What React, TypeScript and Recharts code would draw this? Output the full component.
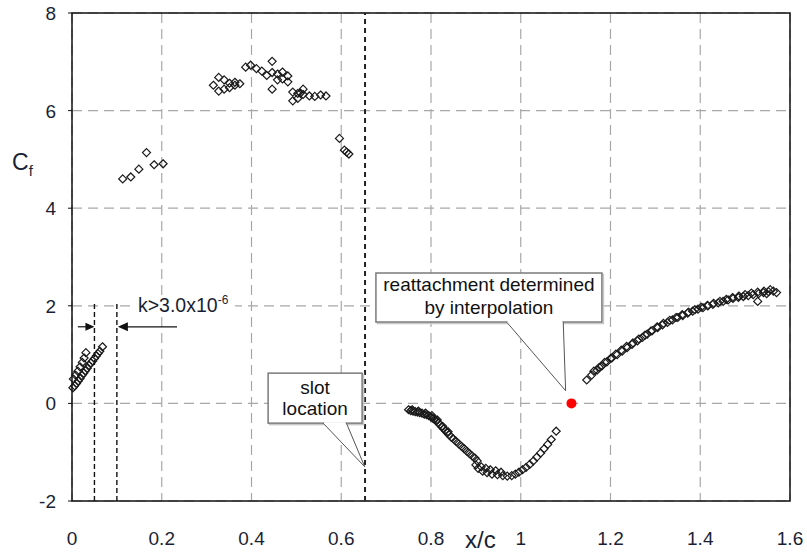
import React from "react";
import {
  CartesianGrid,
  Label,
  ReferenceArea,
  ReferenceDot,
  ReferenceLine,
  Scatter,
  ScatterChart,
  XAxis,
  YAxis,
} from "recharts";

// Skin friction measurements, [x/c, Cf]
const leadingLower: [number, number][] = [
  [0.002, 0.32], [0.006, 0.36], [0.010, 0.41], [0.014, 0.46], [0.018, 0.51],
  [0.022, 0.57], [0.026, 0.62], [0.030, 0.67], [0.034, 0.72], [0.038, 0.78],
  [0.042, 0.83], [0.046, 0.87], [0.050, 0.92], [0.054, 0.97], [0.058, 1.02],
  [0.062, 1.07], [0.068, 1.16],
];
const leadingUpper: [number, number][] = [
  [0.003, 0.5], [0.008, 0.58], [0.013, 0.66], [0.018, 0.75], [0.023, 0.84],
  [0.027, 0.93], [0.031, 1.04],
];
const upstream: [number, number][] = [
  [0.113, 4.6], [0.131, 4.64], [0.149, 4.8], [0.166, 5.14], [0.183, 4.89], [0.203, 4.91],
];
const peak: [number, number][] = [
  [0.315, 6.52], [0.327, 6.68], [0.327, 6.4], [0.339, 6.63], [0.339, 6.44],
  [0.351, 6.56], [0.351, 6.47], [0.363, 6.58], [0.363, 6.52], [0.374, 6.55],
  [0.387, 6.89], [0.398, 6.93], [0.411, 6.86], [0.423, 6.81], [0.434, 6.72],
  [0.446, 7.01], [0.446, 6.78], [0.446, 6.44], [0.458, 6.75], [0.458, 6.63],
  [0.469, 6.79], [0.469, 6.65], [0.481, 6.71], [0.481, 6.59], [0.492, 6.38],
  [0.492, 6.2], [0.503, 6.35], [0.503, 6.25], [0.509, 6.36], [0.515, 6.44],
  [0.515, 6.33], [0.529, 6.3], [0.541, 6.29], [0.554, 6.32], [0.566, 6.3],
];
const preSlot: [number, number][] = [
  [0.596, 5.43], [0.607, 5.19], [0.612, 5.15], [0.617, 5.11],
];
const bubble: [number, number][] = [
  [0.75, -0.13], [0.755, -0.15], [0.758, -0.13], [0.76, -0.16], [0.765, -0.17],
  [0.77, -0.18], [0.772, -0.16], [0.775, -0.19], [0.78, -0.2], [0.785, -0.22],
  [0.788, -0.2], [0.79, -0.23], [0.795, -0.25], [0.8, -0.28], [0.802, -0.25],
  [0.804, -0.3], [0.808, -0.33], [0.812, -0.36], [0.814, -0.34], [0.816, -0.4],
  [0.82, -0.44], [0.824, -0.48], [0.826, -0.47], [0.828, -0.52], [0.832, -0.56],
  [0.836, -0.6], [0.838, -0.58], [0.84, -0.64], [0.845, -0.69], [0.85, -0.73],
  [0.856, -0.78], [0.862, -0.83], [0.868, -0.88], [0.874, -0.93], [0.88, -0.98],
  [0.886, -1.03], [0.892, -1.08], [0.898, -1.12], [0.903, -1.18], [0.9, -1.26],
  [0.905, -1.33], [0.912, -1.3], [0.915, -1.39], [0.922, -1.33], [0.925, -1.42],
  [0.932, -1.36], [0.936, -1.45], [0.944, -1.38], [0.948, -1.46], [0.956, -1.41],
  [0.96, -1.48], [0.97, -1.49], [0.98, -1.48], [0.988, -1.45], [0.996, -1.41],
  [1.004, -1.36], [1.012, -1.31], [1.02, -1.25], [1.028, -1.18], [1.036, -1.1],
  [1.044, -1.02], [1.052, -0.93], [1.06, -0.84], [1.068, -0.74], [1.079, -0.57],
];
const recovery: [number, number][] = [
  [1.147, 0.48], [1.158, 0.58], [1.17, 0.68], [1.181, 0.77], [1.192, 0.85],
  [1.203, 0.93], [1.215, 1.0], [1.226, 1.07], [1.237, 1.14], [1.248, 1.21],
  [1.26, 1.28], [1.271, 1.35], [1.282, 1.42], [1.293, 1.49], [1.305, 1.55],
  [1.316, 1.61], [1.327, 1.66], [1.338, 1.71], [1.35, 1.76], [1.361, 1.8],
  [1.372, 1.85], [1.383, 1.89], [1.395, 1.93], [1.406, 1.96], [1.417, 2.0],
  [1.428, 2.03], [1.44, 2.06], [1.451, 2.09], [1.462, 2.12], [1.473, 2.15],
  [1.485, 2.17], [1.496, 2.19], [1.507, 2.21], [1.518, 2.23], [1.53, 2.25],
  [1.541, 2.27], [1.552, 2.29], [1.563, 2.3], [1.57, 2.27],
  [1.163, 0.66], [1.175, 0.74], [1.187, 0.84], [1.2, 0.92], [1.212, 1.01],
  [1.224, 1.09], [1.236, 1.17], [1.25, 1.24], [1.263, 1.32], [1.277, 1.4],
  [1.29, 1.48], [1.304, 1.57], [1.318, 1.64], [1.332, 1.7], [1.346, 1.76],
  [1.36, 1.82], [1.374, 1.87], [1.388, 1.92], [1.402, 1.97], [1.416, 2.01],
  [1.43, 2.05], [1.444, 2.09], [1.458, 2.13], [1.472, 2.17], [1.486, 2.2],
  [1.5, 2.23], [1.514, 2.26], [1.528, 2.28], [1.542, 2.3], [1.556, 2.33],
  [1.528, 2.09], [1.548, 2.25],
];
const reattachment: [number, number][] = [[1.113, 0]];

const xTicks = [0, 0.2, 0.4, 0.6, 0.8, 1, 1.2, 1.4, 1.6];
const yTicks = [-2, 0, 2, 4, 6, 8];

// roughness strip edges and slot position
const stripEdges = [0.05, 0.1];
const slotX = 0.653;

const FONT = '"Liberation Sans", Arial, sans-serif';
const TEXT = "#1a1f35";
const GROUPS = [leadingLower, leadingUpper, upstream, peak, preSlot, bubble, recovery];

const toPoints = (arr: [number, number][]) => arr.map(([x, y]) => ({ x, y }));

const Diamond = (props: any) => {
  const { cx, cy } = props;
  const r = 4;
  return (
    <path
      d={`M${cx},${cy - r}L${cx + r},${cy}L${cx},${cy + r}L${cx - r},${cy}Z`}
      fill="none"
      stroke="#1a1a1a"
      strokeWidth={1.2}
    />
  );
};

const RedDot = (props: any) => <circle cx={props.cx} cy={props.cy} r={5} fill="#ff0000" />;

const XTick = (props: any) => {
  const { x, y, payload } = props;
  return (
    <text x={x} y={y + 36} textAnchor="middle" fontSize={19} fill={TEXT} fontFamily={FONT}>
      {payload.value}
    </text>
  );
};

const YTick = (props: any) => {
  const { x, y, payload } = props;
  return (
    <text x={x - 10} y={y + 7} textAnchor="end" fontSize={19} fill={TEXT} fontFamily={FONT}>
      {payload.value}
    </text>
  );
};

const ArrowRight = (props: any) => {
  const { cx, cy } = props;
  return <path d={`M${cx},${cy}L${cx - 9},${cy - 4}L${cx - 9},${cy + 4}Z`} fill="#111" />;
};

const ArrowLeft = (props: any) => {
  const { cx, cy } = props;
  return <path d={`M${cx + 1},${cy}L${cx + 11},${cy - 4.5}L${cx + 11},${cy + 4.5}Z`} fill="#111" />;
};

const RoughnessNote = (props: any) => {
  const { cx, cy } = props;
  return (
    <g fontFamily={FONT} fill={TEXT}>
      <rect x={cx - 3} y={cy - 17} width={100} height={20} fill="#fff" />
      <text x={cx} y={cy} fontSize={19.5}>
        k&gt;3.0x10
        <tspan fontSize={12} dy={-8}>-6</tspan>
      </text>
    </g>
  );
};

// speech-bubble callout whose tail ends at (cx, cy)
const callout = (
  box: { left: number; right: number; top: number; bottom: number },
  tail: [number, number],
  lines: { text: string; dy: number }[],
  textX: number,
) => (props: any) => {
  const { cx, cy } = props;
  const l = cx + box.left;
  const r = cx + box.right;
  const t = cy + box.top;
  const b = cy + box.bottom;
  return (
    <g fontFamily={FONT}>
      <rect x={l + 1.5} y={t + 1.5} width={r - l} height={b - t} fill="none" stroke="#c8c8c8" strokeWidth={1.5} />
      <rect x={l} y={t} width={r - l} height={b - t} fill="#fff" stroke="#7a7a7a" strokeWidth={1.5} />
      <path d={`M${cx + tail[0]},${b}L${cx},${cy}L${cx + tail[1]},${b}`} fill="#fff" stroke="#555" strokeWidth={1} />
      <line x1={cx + tail[0] + 1} y1={b} x2={cx + tail[1] - 1} y2={b} stroke="#fff" strokeWidth={2} />
      {lines.map((ln) => (
        <text key={ln.text} x={cx + textX} y={cy + ln.dy} textAnchor="middle" fontSize={19} fill="#111">
          {ln.text}
        </text>
      ))}
    </g>
  );
};

const SlotCallout = callout(
  { left: -96.7, right: -2.7, top: -93.7, bottom: -43.7 },
  [-41.7, -18.4],
  [{ text: "slot", dy: -73 }, { text: "location", dy: -52 }],
  -49.7,
);

const ReattachCallout = callout(
  { left: -189.7, right: 36.3, top: -117.7, bottom: -68.7 },
  [-59, -2.4],
  [{ text: "reattachment determined", dy: -100 }, { text: "by interpolation", dy: -77 }],
  -76.7,
);

export default function App() {
  return (
    <div style={{ position: "absolute", left: 0, top: 0, width: 807, height: 555, background: "#fff" }}>
      <ScatterChart width={807} height={555} margin={{ top: 13, right: 17, bottom: 0, left: 0 }}>
        <CartesianGrid stroke="#a8a8a8" strokeWidth={1.2} strokeDasharray="10 6" />
        <XAxis
          type="number"
          dataKey="x"
          domain={[0, 1.6]}
          ticks={xTicks}
          height={54}
          axisLine={false}
          tickLine={false}
          tick={<XTick />}
          interval={0}
        >
          <Label
            content={(p: any) => (
              <text x={p.viewBox.x + 393} y={p.viewBox.y + 47} fontSize={24} fill={TEXT} fontFamily={FONT}>
                x/c
              </text>
            )}
          />
        </XAxis>
        <YAxis
          type="number"
          dataKey="y"
          domain={[-2, 8]}
          ticks={yTicks}
          width={72}
          axisLine={false}
          tickLine={{ stroke: "#111" }}
          tickSize={4}
          tick={<YTick />}
          interval={0}
        >
          <Label
            content={(p: any) => (
              <text x={p.viewBox.x + 12} y={p.viewBox.y + 157} fontSize={23} fill={TEXT} fontFamily={FONT}>
                C<tspan fontSize={15} dy={6}>f</tspan>
              </text>
            )}
          />
        </YAxis>

        <ReferenceArea x1={0} x2={1.6} y1={-2} y2={8} fill="none" stroke="#111" strokeWidth={1.5} />

        {stripEdges.map((e) => (
          <ReferenceLine
            key={e}
            segment={[{ x: e, y: -2 }, { x: e, y: 2.05 }]}
            stroke="#111"
            strokeWidth={1.4}
            strokeDasharray="5 3"
          />
        ))}
        <ReferenceLine x={slotX} stroke="#222" strokeWidth={2} strokeDasharray="5 4" />

        <ReferenceLine segment={[{ x: 0.013, y: 1.57 }, { x: 0.045, y: 1.57 }]} stroke="#111" strokeWidth={1.2} />
        <ReferenceLine segment={[{ x: 0.11, y: 1.57 }, { x: 0.234, y: 1.57 }]} stroke="#111" strokeWidth={1.2} />
        <ReferenceDot x={0.05} y={1.57} shape={<ArrowRight />} />
        <ReferenceDot x={0.1} y={1.57} shape={<ArrowLeft />} />
        <ReferenceDot x={0.147} y={1.87} shape={<RoughnessNote />} />

        <ReferenceDot x={0.6525} y={-1.3} shape={<SlotCallout />} />
        <ReferenceDot x={1.1} y={0.26} shape={<ReattachCallout />} />

        {GROUPS.map((g, i) => (
          <Scatter key={i} data={toPoints(g)} shape={<Diamond />} isAnimationActive={false} />
        ))}
        <Scatter data={toPoints(reattachment)} shape={<RedDot />} isAnimationActive={false} />
      </ScatterChart>
    </div>
  );
}
